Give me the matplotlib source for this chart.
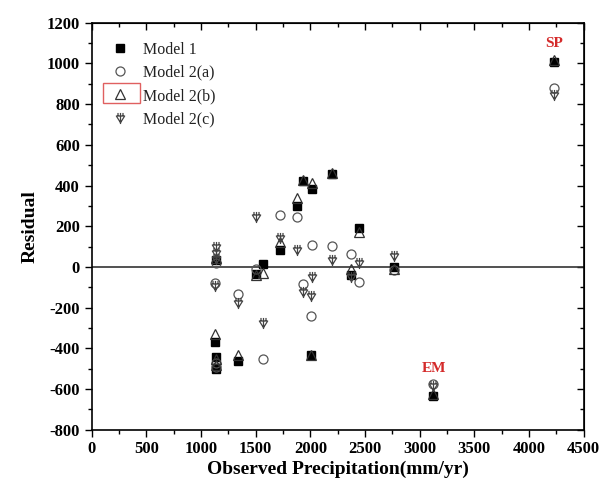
"""Residuals of the precipitation models against observed precipitation"""

import numpy as np
import matplotlib
matplotlib.use('Agg')
import matplotlib.pyplot as plt
from matplotlib.path import Path
from matplotlib.patches import Rectangle
from matplotlib.ticker import MultipleLocator

# Observed precipitation at each station (mm/yr)
obs = [1130, 1135, 1140, 1135, 1341, 1503, 1567, 1723, 1881,
       1930, 2005, 2018, 2196, 2372, 2443, 2766, 3120, 4230]

# Residuals for each model
model_1 = [-368, -444, -502, 34, -461, -35, 14, 83, 299,
           422, -433, 381, 455, -40, 190, 0, -635, 1005]
model_2a = [-78, -470, -490, 21, -133, -10, -454, 255, 245,
            -84, -241, 109, 103, 62, -73, -15, -578, 880]
model_2b = [-330, -455, -480, 45, -434, -40, -32, 120, 337,
            425, -433, 411, 460, -10, 173, -10, -625, 1015]
model_2c = [-95, 99, 67, 40, -175, 244, -276, 141, 83,
            -125, -142, -48, 34, -50, 21, 55, -585, 845]

# outlier stations
labels = ['SP', 'EM']
label_x = [4230, 3130]
label_y = [1100, -500]

plt.rcParams['font.family'] = ['Liberation Serif', 'DejaVu Serif']
plt.rcParams['axes.unicode_minus'] = False

# psi-like marker: open down triangle crossed by a stem
psi_verts = [(-0.75, 0.45), (0.75, 0.45), (0.0, -0.75), (-0.75, 0.45),
             (0.0, 1.0), (0.0, -1.0),
             (-0.45, 1.0), (-0.45, 0.45), (0.45, 1.0), (0.45, 0.45)]
psi_codes = [Path.MOVETO, Path.LINETO, Path.LINETO, Path.CLOSEPOLY,
             Path.MOVETO, Path.LINETO,
             Path.MOVETO, Path.LINETO, Path.MOVETO, Path.LINETO]
psi_marker = Path(psi_verts, psi_codes)

fig = plt.figure(figsize=(6.13, 4.95), dpi=100)
ax = fig.add_axes([0.1496, 0.132, 0.8024, 0.822])

ax.axhline(0, color='#333333', lw=1.2, zorder=1)

ax.plot(obs, model_1, ls='none', marker='s', ms=5.5, mfc='black', mec='black',
        label='Model 1', zorder=3)
ax.plot(obs, model_2a, ls='none', marker='o', ms=6.5, mfc='none', mec='#555555',
        mew=0.9, label='Model 2(a)', zorder=3)
ax.plot(obs, model_2b, ls='none', marker='^', ms=7, mfc='none', mec='#333333',
        mew=0.9, label='Model 2(b)', zorder=4)
ax.plot(obs, model_2c, ls='none', marker=psi_marker, ms=8, mfc='none', mec='#444444',
        mew=0.9, label='Model 2(c)', zorder=4)

for txt, tx, ty in zip(labels, label_x, label_y):
    ax.text(tx, ty, txt, color='#d42a2a', fontsize=11, fontweight='bold',
            ha='center', va='center')

ax.set_xlim(0, 4500)
ax.set_ylim(-800, 1200)
ax.xaxis.set_major_locator(MultipleLocator(500))
ax.xaxis.set_minor_locator(MultipleLocator(250))
ax.yaxis.set_major_locator(MultipleLocator(200))
ax.yaxis.set_minor_locator(MultipleLocator(100))
ax.tick_params(which='both', direction='out', top=False, right=False,
               labelsize=12, width=1)
ax.tick_params(which='major', length=5)
ax.tick_params(which='minor', length=3)
for lab in ax.get_xticklabels() + ax.get_yticklabels():
    lab.set_fontweight('bold')

# inward ticks on the top and right spines
ax_top = ax.secondary_xaxis('top')
ax_top.xaxis.set_major_locator(MultipleLocator(500))
ax_top.xaxis.set_minor_locator(MultipleLocator(250))
ax_top.tick_params(which='both', direction='in', labeltop=False, width=1)
ax_top.tick_params(which='major', length=5)
ax_top.tick_params(which='minor', length=3)
ax_right = ax.secondary_yaxis('right')
ax_right.yaxis.set_major_locator(MultipleLocator(200))
ax_right.yaxis.set_minor_locator(MultipleLocator(100))
ax_right.tick_params(which='both', direction='in', labelright=False, width=1)
ax_right.tick_params(which='major', length=5)
ax_right.tick_params(which='minor', length=3)

for sp in ax.spines.values():
    sp.set_linewidth(1.2)

ax.set_xlabel('Observed Precipitation(mm/yr)', fontsize=14, fontweight='bold',
              labelpad=2)
ax.set_ylabel('Residual', fontsize=14, fontweight='bold', labelpad=6)

leg = ax.legend(loc='upper left', bbox_to_anchor=(0.0, 0.993), frameon=False,
                fontsize=11.5, handletextpad=0.6, labelspacing=0.45,
                borderaxespad=0.6, handlelength=1.6)
for t in leg.get_texts():
    t.set_color('#222222')

# red box around the Model 2(b) key
fig.patches.append(Rectangle((103 / 613, 1 - 103 / 495), 37 / 613, 20 / 495,
                             transform=fig.transFigure, fill=False,
                             ec='#e06060', lw=1))

fig.savefig('out.png', dpi=100)
